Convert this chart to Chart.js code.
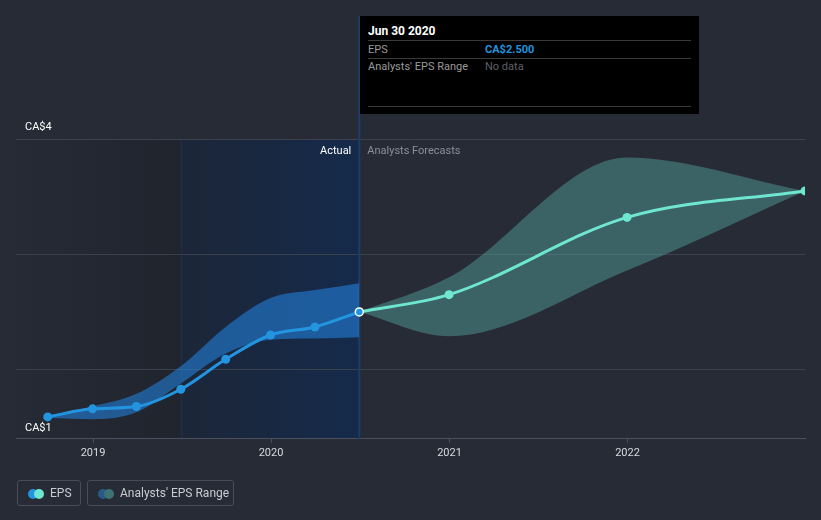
<!DOCTYPE html>
<html>
<head>
<meta charset="utf-8">
<script src="https://cdn.jsdelivr.net/npm/chart.js@4.4.1/dist/chart.umd.min.js"></script>
<style>
  html, body { margin: 0; padding: 0; background: #262b36; }
  #wrap { position: relative; width: 821px; height: 520px; font-family: Roboto, "Noto Sans", sans-serif; }
  #c { position: absolute; left: 0; top: 0; }
  #tip { position: absolute; left: 360px; top: 16px; width: 339px; height: 98px; background: #000; color: #fff; font-size: 11px; }
  #tip .title { position: absolute; left: 8px; top: 8px; font-weight: bold; font-size: 12px; color: #fff; }
  #tip .sep { position: absolute; left: 8px; right: 8px; height: 1px; background: #3a3a3a; }
  #tip .lab { position: absolute; left: 8px; color: #9a9a9a; }
  #tip .val { position: absolute; left: 125px; }
  .leg { position: absolute; top: 480px; height: 26px; border: 1px solid #474d5a; border-radius: 3px; box-sizing: border-box; font-size: 12px; color: #c8ccd3; }
  .leg .dot { position: absolute; top: 8px; width: 10px; height: 10px; border-radius: 50%; }
  .leg .txt { position: absolute; top: 5px; }
</style>
</head>
<body>
<div id="wrap">
  <canvas id="c" width="821" height="520"></canvas>
  <div id="tip">
    <div class="title" id="tipTitle"></div>
    <div class="sep" style="top:24px"></div>
    <div class="lab" style="top:27px" id="tipLab1"></div>
    <div class="val" style="top:27px;color:#2394df;font-weight:bold" id="tipVal1"></div>
    <div class="sep" style="top:42px"></div>
    <div class="lab" style="top:44px" id="tipLab2"></div>
    <div class="val" style="top:44px;color:#5d6068" id="tipVal2"></div>
    <div class="sep" style="top:90px"></div>
  </div>
  <div class="leg" style="left:17px;width:64px">
    <div class="dot" style="left:10px;background:#2394df"></div>
    <div class="dot" style="left:16px;background:#6ee6d0"></div>
    <div class="txt" style="left:32px">EPS</div>
  </div>
  <div class="leg" style="left:87px;width:147px">
    <div class="dot" style="left:10px;background:#285a86"></div>
    <div class="dot" style="left:16px;background:#3f7275"></div>
    <div class="txt" style="left:32px">Analysts' EPS Range</div>
  </div>
</div>
<script>
// ---- data ----
const actualDates = ['2018-09-30','2018-12-31','2019-03-31','2019-06-30','2019-09-30','2019-12-31','2020-03-31','2020-06-30'];
const epsActual = [1.59, 1.66, 1.68, 1.83, 2.09, 2.30, 2.37, 2.50];
const actualRangeHigh = [1.60, 1.68, 1.79, 2.03, 2.37, 2.62, 2.69, 2.75];
const actualRangeLow = [1.58, 1.57, 1.63, 1.88, 2.14, 2.26, 2.27, 2.28];

const forecastDates = ['2020-06-30','2020-12-31','2021-12-31','2022-12-31'];
const epsForecast = [2.50, 2.65, 3.32, 3.55];
const forecastHigh = [2.50, 2.80, 3.84, 3.55];
const forecastLow = [2.50, 2.29, 2.86, 3.55];

const xTickLabels = ['2019', '2020', '2021', '2022'];
const yLabels = ['CA$4', 'CA$1'];
const yTopValue = 4;
const yMinValue = 1.4;
const axisStart = '2018-07-27';
const axisEnd = '2022-12-31';
const actualWindowStart = '2019-06-30';
const actualWindowEnd = '2020-06-30';

const tipTitle = 'Jun 30 2020';
const tipRows = [['EPS', 'CA$2.500'], ["Analysts' EPS Range", 'No data']];
const sectionLabels = ['Actual', 'Analysts Forecasts'];

// ---- helpers ----
const t = s => Date.parse(s + 'T00:00:00Z');
const pts = (dates, vals) => dates.map((d, i) => ({ x: t(d), y: vals[i] }));

document.getElementById('tipTitle').textContent = tipTitle;
document.getElementById('tipLab1').textContent = tipRows[0][0];
document.getElementById('tipVal1').textContent = tipRows[0][1];
document.getElementById('tipLab2').textContent = tipRows[1][0];
document.getElementById('tipVal2').textContent = tipRows[1][1];

const bgPlugin = {
  id: 'bg',
  beforeDraw(chart) {
    const { ctx, chartArea: a, scales: { x } } = chart;
    ctx.save();
    ctx.fillStyle = '#262b36';
    ctx.fillRect(0, 0, chart.width, chart.height);
    const x0 = x.getPixelForValue(t(actualWindowStart));
    const x1 = x.getPixelForValue(t(actualWindowEnd));
    let g = ctx.createLinearGradient(a.left, 0, x0, 0);
    g.addColorStop(0, 'rgba(0,0,0,0.02)');
    g.addColorStop(1, 'rgba(0,0,0,0.16)');
    ctx.fillStyle = g;
    ctx.fillRect(a.left, a.top, x0 - a.left, a.bottom - a.top);
    g = ctx.createLinearGradient(x0, 0, x1, 0);
    g.addColorStop(0, '#1c2638');
    g.addColorStop(1, '#152a4b');
    ctx.fillStyle = g;
    ctx.fillRect(x0, a.top, x1 - x0, a.bottom - a.top);
    ctx.strokeStyle = 'rgba(40,70,110,0.3)';
    ctx.lineWidth = 1;
    ctx.beginPath();
    ctx.moveTo(Math.round(x0) + 0.5, a.top);
    ctx.lineTo(Math.round(x0) + 0.5, a.bottom);
    ctx.stroke();
    ctx.restore();
  },
  beforeDatasetsDraw(chart) {
    const { ctx, chartArea: a, scales: { x, y } } = chart;
    const x1 = x.getPixelForValue(t(actualWindowEnd));
    ctx.save();
    ctx.strokeStyle = '#1f3d64';
    ctx.lineWidth = 2;
    ctx.beginPath();
    ctx.moveTo(x1, 16);
    ctx.lineTo(x1, a.bottom);
    ctx.stroke();
    ctx.font = '11px Roboto, sans-serif';
    ctx.textBaseline = 'middle';
    ctx.fillStyle = '#ffffff';
    ctx.textAlign = 'right';
    ctx.fillText(sectionLabels[0], x1 - 8, a.top + 12);
    ctx.fillStyle = '#8a8f98';
    ctx.textAlign = 'left';
    ctx.fillText(sectionLabels[1], x1 + 8, a.top + 12);
    ctx.fillStyle = '#ffffff';
    ctx.font = '11px Roboto, sans-serif';
    ctx.fillText(yLabels[0], 25, y.getPixelForValue(yTopValue) - 12);
    ctx.fillText(yLabels[1], 25, a.bottom - 11);
    ctx.restore();
  }
};

new Chart(document.getElementById('c'), {
  type: 'line',
  data: {
    datasets: [
      {
        label: 'EPS',
        data: pts(actualDates, epsActual),
        borderColor: '#2394df',
        borderWidth: 3,
        pointRadius: actualDates.map((d, i) => i === actualDates.length - 1 ? 4 : 4.5),
        pointBackgroundColor: '#2394df',
        pointBorderColor: actualDates.map((d, i) => i === actualDates.length - 1 ? '#ffffff' : '#2394df'),
        pointBorderWidth: actualDates.map((d, i) => i === actualDates.length - 1 ? 1.5 : 0),
        cubicInterpolationMode: 'monotone',
        fill: false,
        order: 0
      },
      {
        label: 'EPS forecast',
        data: pts(forecastDates, epsForecast),
        borderColor: '#6ee6d0',
        borderWidth: 3,
        pointRadius: forecastDates.map((d, i) => i === 0 ? 0 : 4.5),
        pointBackgroundColor: '#6ee6d0',
        pointBorderWidth: 0,
        cubicInterpolationMode: 'monotone',
        fill: false,
        order: 1
      },
      {
        label: 'Actual range high',
        data: pts(actualDates, actualRangeHigh),
        borderWidth: 0,
        borderColor: 'rgba(0,0,0,0)',
        pointRadius: 0,
        backgroundColor: 'rgba(35,130,220,0.58)',
        cubicInterpolationMode: 'monotone',
        fill: '+1',
        order: 3
      },
      {
        label: 'Actual range low',
        data: pts(actualDates, actualRangeLow),
        borderWidth: 0,
        borderColor: 'rgba(0,0,0,0)',
        pointRadius: 0,
        cubicInterpolationMode: 'monotone',
        fill: false,
        order: 4
      },
      {
        label: 'Forecast high',
        data: pts(forecastDates, forecastHigh),
        borderWidth: 0,
        borderColor: 'rgba(0,0,0,0)',
        pointRadius: 0,
        backgroundColor: 'rgba(100,200,190,0.35)',
        cubicInterpolationMode: 'monotone',
        fill: '+1',
        order: 5
      },
      {
        label: 'Forecast low',
        data: pts(forecastDates, forecastLow),
        borderWidth: 0,
        borderColor: 'rgba(0,0,0,0)',
        pointRadius: 0,
        cubicInterpolationMode: 'monotone',
        fill: false,
        order: 6
      }
    ]
  },
  options: {
    responsive: false,
    animation: false,
    events: [],
    layout: { padding: { left: 16, right: 16, top: 139, bottom: 56 } },
    plugins: { legend: { display: false }, tooltip: { enabled: false } },
    scales: {
      x: {
        type: 'linear',
        min: t(axisStart),
        max: t(axisEnd),
        afterBuildTicks(scale) {
          scale.ticks = xTickLabels.map(l => ({ value: t(l + '-01-01') }));
        },
        ticks: {
          color: '#d8dbe0',
          font: { family: 'Roboto', size: 11 },
          padding: 4,
          maxRotation: 0,
          autoSkip: false,
          callback: (v) => String(new Date(v).getUTCFullYear())
        },
        grid: { drawOnChartArea: false, drawTicks: true, tickLength: 4, color: '#4a5060' },
        border: { display: true, color: '#4a5060', width: 1 }
      },
      y: {
        min: yMinValue,
        max: yTopValue,
        afterBuildTicks(scale) {
          scale.ticks = [2, 3, 4].map(v => ({ value: v }));
        },
        ticks: { display: false },
        grid: { color: '#3a404c', drawTicks: false, lineWidth: 1 },
        border: { display: false }
      }
    }
  },
  plugins: [bgPlugin]
});
</script>
</body>
</html>
